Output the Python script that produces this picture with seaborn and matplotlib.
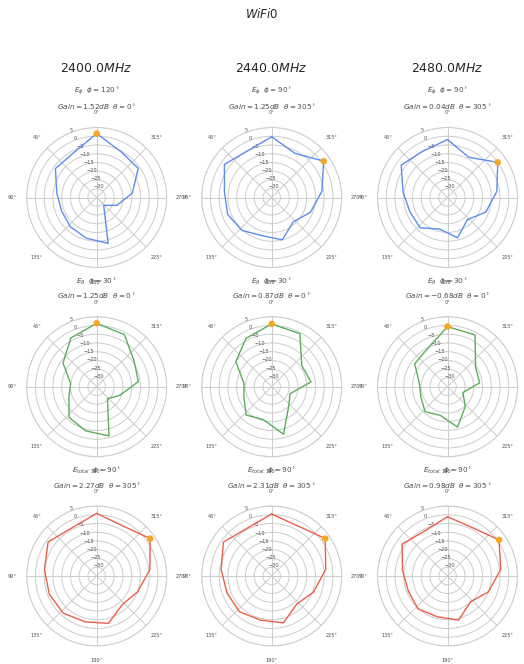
import numpy as np
import pandas as pd
import matplotlib
matplotlib.use("Agg")
import matplotlib.pyplot as plt
import seaborn as sns

# Measurement angles (degrees) of the far-field cut
theta_deg = [0, 28, 55, 83, 111, 138, 166, 194, 222, 249, 277, 305, 332]

freq_labels = ["2400.0", "2440.0", "2480.0"]
component_tex = ["\\phi", "\\theta", "{total}"]
phi_cuts = [[120, 90, 90], [30, 30, 30], [90, 90, 90]]

# Gain in dB, one list per component (rows) and frequency (columns)
gain_ephi_2400 = [1.52, -6.3, -6.2, -12.0, -13.5, -12.5, -11.0, -8.0, -29.0, -22.6, -14.5, -6.0, -5.4]
gain_ephi_2440 = [-0.3, -5.0, -2.0, -7.8, -8.0, -9.7, -12.5, -10.1, -16.4, -11.3, -6.1, 1.25, -6.5]
gain_ephi_2480 = [-1.9, -5.0, -2.7, -9.4, -12.0, -11.7, -16.4, -11.3, -18.0, -11.6, -6.6, 0.04, -9.0]

gain_etheta_2400 = [1.25, -3.5, -11.5, -20.0, -18.0, -11.4, -9.0, -6.0, -25.8, -21.0, -11.0, -9.0, -1.3]
gain_etheta_2440 = [0.87, -3.7, -10.0, -19.0, -18.0, -13.2, -15.6, -7.0, -20.4, -23.8, -12.4, -14.0, -0.7]
gain_etheta_2480 = [-0.68, -10.5, -12.1, -18.8, -18.7, -15.8, -18.1, -11.2, -19.8, -25.6, -16.5, -15.4, -1.5]

gain_etotal_2400 = [0.8, -4.1, -1.1, -4.9, -6.0, -6.4, -8.0, -7.1, -13.1, -9.9, -4.4, 2.27, -2.7]
gain_etotal_2440 = [0.4, -4.3, -1.3, -5.9, -7.7, -7.5, -9.0, -7.4, -13.5, -9.4, -3.9, 2.31, -2.7]
gain_etotal_2480 = [-1.1, -6.2, -3.3, -9.1, -11.0, -9.8, -11.0, -9.0, -15.2, -9.9, -4.4, 0.98, -3.9]

gains = [
    [gain_ephi_2400, gain_ephi_2440, gain_ephi_2480],
    [gain_etheta_2400, gain_etheta_2440, gain_etheta_2480],
    [gain_etotal_2400, gain_etotal_2440, gain_etotal_2480],
]

row_colors = ["#5b8def", "#5aae5a", "#ec5f48"]
peak_color = "#f5a623"

sns.set_theme(style="whitegrid")
plt.rcParams["font.family"] = ["DejaVu Sans"]
plt.rcParams["mathtext.fontset"] = "dejavusans"

W, H = 524, 664
fig = plt.figure(figsize=(W / 100, H / 100), dpi=100)
fig.patch.set_facecolor("white")

col_cx = [96.7, 271.7, 447.5]
row_cy = [197.5, 386.7, 576.0]
radius = 70.0

fig.text(0.5, 1 - 13.5 / H, "$WiFi0$", ha="center", va="center", fontsize=8.5, color=".15")

for j, f in enumerate(freq_labels):
    fig.text(col_cx[j] / W, 1 - 68 / H, f + "$MHz$", ha="center", va="center",
             fontsize=9, color=".15")

for i in range(3):
    for j in range(3):
        cx, cy = col_cx[j], row_cy[i]
        rect = [(cx - radius) / W, 1 - (cy + radius) / H, 2 * radius / W, 2 * radius / H]
        ax = fig.add_axes(rect, projection="polar")
        ax.set_theta_zero_location("N")

        vals = gains[i][j]
        df = pd.DataFrame({
            "theta": np.deg2rad(theta_deg + [360]),
            "gain": vals + [vals[0]],
        })
        sns.lineplot(data=df, x="theta", y="gain", sort=False, estimator=None,
                     color=row_colors[i], linewidth=1.0, ax=ax)

        k = int(np.argmax(vals))
        peak = pd.DataFrame({"theta": [np.deg2rad(theta_deg[k])], "gain": [vals[k]]})
        sns.scatterplot(data=peak, x="theta", y="gain", color=peak_color, s=22,
                        edgecolor="none", zorder=4, ax=ax)

        ax.set_ylim(-35, 5)
        ax.set_yticks(list(range(-30, 6, 5)))
        ax.set_xticks(np.deg2rad(np.arange(0, 360, 45)))
        ax.set_xlabel("")
        ax.set_ylabel("")
        ax.tick_params(axis="x", labelsize=3.6, length=0, pad=3.5, colors=".3")
        ax.tick_params(axis="y", labelsize=3.6, length=0, colors=".3")
        ax.grid(True, color=".8", linewidth=0.7)
        ax.spines["polar"].set_color(".8")
        ax.spines["polar"].set_linewidth(0.7)

        ax.text(0.5, 1 + 35.5 / (2 * radius), f"$E_{component_tex[i]}$  $\\phi = {phi_cuts[i][j]}^\\circ$",
                transform=ax.transAxes, ha="center", va="center", fontsize=5.2, color=".3")
        ax.text(0.5, 1 + 20 / (2 * radius),
                f"$Gain = {vals[k]:.2f}dB$  $\\theta = {theta_deg[k]}^\\circ$",
                transform=ax.transAxes, ha="center", va="center", fontsize=5.2, color=".3")

fig.savefig("out.png", dpi=100, facecolor="white")
